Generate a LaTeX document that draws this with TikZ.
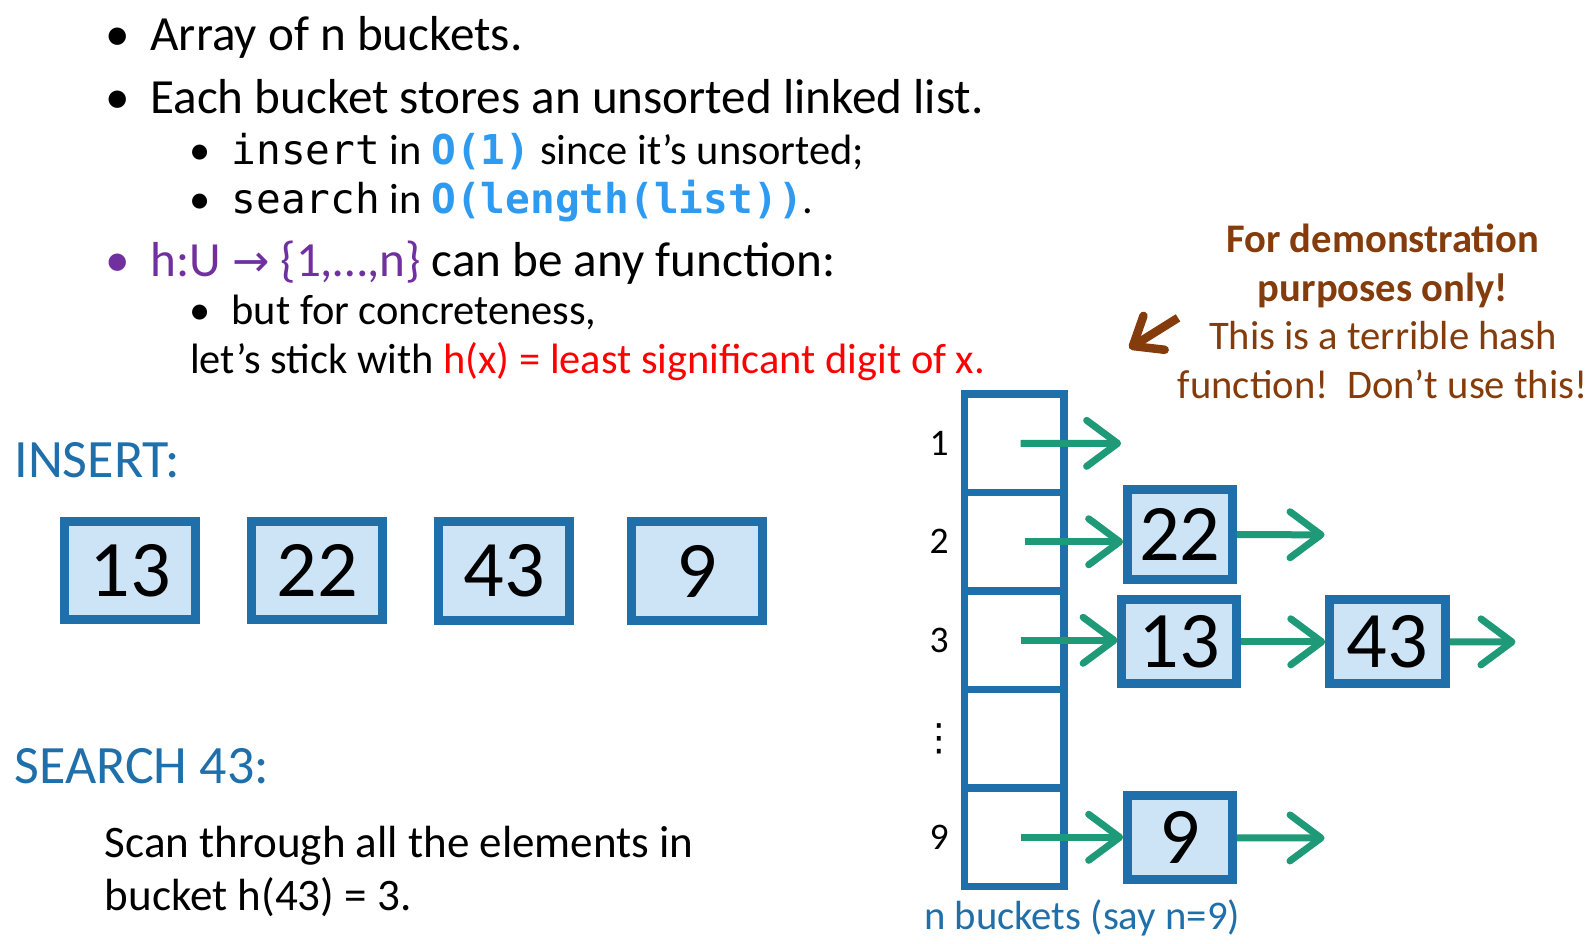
\documentclass[tikz,border=0pt]{standalone}
\usepackage{fontspec}
\setmainfont{Carlito}
\setmonofont{DejaVu Sans Mono}
\newfontfamily\symfont{DejaVu Sans}
\usetikzlibrary{positioning, arrows.meta}
\definecolor{titleblue}{HTML}{1F6FAB}
\definecolor{boxfill}{HTML}{CCE4F5}
\definecolor{codeblue}{HTML}{2E9BF0}
\definecolor{hashpurple}{HTML}{7030A0}
\definecolor{linkgreen}{HTML}{1E9A78}
\definecolor{notebrown}{HTML}{843C0C}
\newcommand{\mainbul}{\makebox[44pt][l]{\textbullet}}
\newcommand{\subbul}{\makebox[42pt][l]{\textbullet}}
\newcommand{\code}[1]{{\ttfamily\fontsize{40.5}{40.5}\selectfont #1}}
\tikzset{
  line/.style = {anchor=base west, inner sep=0pt},
  itembox/.style = {draw=titleblue, fill=boxfill, line width=9pt,
    minimum width=129pt, minimum height=97pt, font=\fontsize{79}{79}\selectfont},
  chainbox/.style = {itembox, minimum width=103pt, minimum height=83pt},
  cell/.style = {draw=titleblue, line width=7.5pt, minimum width=98pt, minimum height=97pt},
  Link/.style = {linkgreen, line width=7pt,
    -{Straight Barb[round, length=31pt, width=46pt]}},
  Warn/.style = {notebrown, line width=8.5pt,
    -{Straight Barb[round, length=25pt, width=40pt]}}
}

\begin{document}
\begin{tikzpicture}[x=1pt, y=-1pt, scale=1.0153, every node/.append style={transform shape}]
    \useasboundingbox (0,0) rectangle (1568,928.8);
    % bullets
    \begin{scope}[font=\fontsize{48.4}{48.4}\selectfont]
    \node [line] (b1) at (104,50) {\mainbul Array of n buckets.};
    \node [line] (b2) at (104,112) {\mainbul Each bucket stores an unsorted linked list.};
    \node [line, text=hashpurple] (b3) at (104,272) {\mainbul h:U {\symfont\fontsize{44}{44}\selectfont →} \{1,…,n\} \textcolor{black}{can be any function:}};
    \end{scope}
    \begin{scope}[font=\fontsize{41.8}{41.8}\selectfont]
    \node [line] (s1) at (186,162) {\subbul\code{insert} in \code{\bfseries\color{codeblue}O(1)} since it’s unsorted;};
    \node [line] (s2) at (186,210) {\subbul\code{search} in \code{\bfseries\color{codeblue}O(length(list))}.};
    \node [line] (s3) at (186,320) {\subbul but for concreteness,};
    \node [line] (s4) at (187,368) {let’s stick with \textcolor{red}{h(x) = least significant digit of x.}};
    \end{scope}
    % insert
    \node [line, text=titleblue, font=\fontsize{53.2}{53.2}\selectfont] (ins) at (14,470) {INSERT:};
    \node [itembox] (i13) at (128.5,562) {13};
    \node [itembox, right=46pt of i13] (i22) {22};
    \node [itembox, right=46pt of i22] (i43) {43};
    \node [itembox, right=52pt of i43] (i9) {9};
    % search
    \node [line, text=titleblue, font=\fontsize{53.2}{53.2}\selectfont] (srch) at (14,772) {SEARCH 43:};
    \node [line, font=\fontsize{44.4}{44.4}\selectfont] (scan) at (103,845) {Scan through all the elements in};
    \node [line, font=\fontsize{44.4}{44.4}\selectfont] (scan2) at (103,897) {bucket h(43) = 3.};
    % table
    \foreach \i/\lbl in {1/1, 2/2, 3/3, 4/{\symfont ⋮}, 5/9} {
        \node [cell] (c\i) at (999,{388+97*(\i-0.5)}) {};
        \node [font=\fontsize{37}{37}\selectfont] (l\i) at (925,{388+97*(\i-0.5)}) {\lbl};
    }
    \node [line, text=titleblue, font=\fontsize{40.1}{40.1}\selectfont] (nb) at (910,915) {n buckets (say n=9)};
    \node [chainbox, minimum height=88pt] (h22) at (1162,526.5) {22};
    \node [chainbox, minimum width=113pt] (h13) at (1161.5,632) {13};
    \node [chainbox, minimum width=114pt] (h43) at (1366.5,632) {43};
    \node [chainbox] (h9) at (1162,825) {9};
    \coordinate [right=52pt of c1] (nil1);
    \coordinate [right=86pt of h22] (nil2);
    \coordinate [right=64pt of h43] (nil3);
    \coordinate [right=86pt of h9] (nil9);
    \draw [Link] ([xshift=6pt]c1.center) -- (nil1);
    \draw [Link] ([xshift=10pt]c2.center) -- (c2.center -| h22.west);
    \draw [Link] (h22.east) -- (nil2);
    \draw [Link] ([xshift=6pt]c3.center) -- (c3.center -| h13.west);
    \draw [Link] (h13.east) -- (h43.west);
    \draw [Link] (h43.east) -- (nil3);
    \draw [Link] ([xshift=6pt]c5.center) -- (c5.center -| h9.west);
    \draw [Link] (h9.east) -- (nil9);
    % note
    \begin{scope}[text=notebrown, font=\fontsize{40}{40}\selectfont]
    \node [anchor=base] (n1) at (1362,249) {\bfseries For demonstration};
    \node [anchor=base] (n2) at (1362,297) {\bfseries purposes only!};
    \node [anchor=base] (n3) at (1362,344) {This is a terrible hash};
    \node [anchor=base] (n4) at (1362,392) {function!\ \ Don’t use this!};
    \end{scope}
    \coordinate (warnfrom) at (1160,313);
    \coordinate (warnto) at (1112,343);
    \draw [Warn] (warnfrom) -- (warnto);
\end{tikzpicture}
\end{document}
